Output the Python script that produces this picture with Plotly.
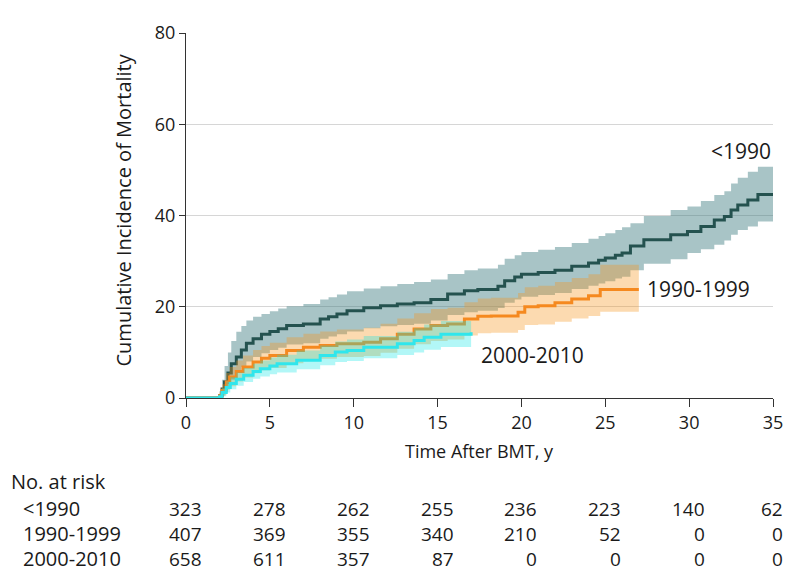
import plotly.graph_objects as go

# ---------------- data ----------------
# <1990 cohort: step times (years), cumulative incidence, lower / upper CI
t_pre90 = [0, 2.0, 2.15, 2.3, 2.5, 2.7, 3.0, 3.3, 3.6, 4.0, 4.5, 5.0, 5.5, 6.0, 7.0, 8.0, 8.5, 9.0,
           9.6, 10.6, 11.6, 12.6, 13.6, 14.6, 15.6, 16.6, 17.4, 18.6, 19.0, 19.6, 20.0, 21.0, 22.0,
           23.0, 24.0, 24.6, 25.0, 25.6, 26.0, 26.5, 27.3, 28.9, 29.9, 30.7, 31.5, 32.1, 32.5, 32.9,
           33.5, 34.1, 35.0]
v_pre90 = [0, 0.5, 2.0, 3.5, 5.5, 7.5, 9.0, 10.5, 12.0, 13.0, 14.0, 14.6, 15.2, 15.9, 16.2, 17.3, 17.8,
           18.4, 19.1, 19.8, 20.2, 20.6, 20.9, 21.6, 22.8, 23.5, 23.8, 24.5, 25.7, 26.5, 27.1, 27.5,
           28.0, 28.9, 29.6, 30.2, 30.7, 31.3, 31.8, 33.3, 34.7, 35.8, 36.5, 37.6, 39.0, 39.8, 41.2,
           42.3, 43.4, 44.6, 44.6]
lo_pre90 = [0, 0, 0.5, 1.2, 2.5, 4.0, 5.5, 6.8, 8.0, 9.0, 9.8, 10.5, 11.0, 11.7, 12.0, 13.0, 13.5,
            14.0, 14.6, 15.3, 15.7, 16.0, 16.3, 17.0, 18.2, 18.8, 19.1, 19.7, 20.9, 21.6, 22.2, 22.6,
            23.0, 23.9, 24.6, 25.1, 25.6, 26.2, 26.6, 28.0, 29.4, 30.4, 31.8, 32.6, 33.6, 34.5, 35.8,
            36.8, 37.6, 38.7, 38.7]
hi_pre90 = [0, 1.5, 4.0, 7.0, 10.0, 12.5, 14.5, 15.8, 17.0, 17.8, 18.4, 19.0, 19.6, 20.1, 20.6, 21.6,
            22.1, 22.7, 23.4, 24.0, 24.5, 25.0, 25.4, 26.0, 27.2, 28.0, 28.4, 29.2, 30.5, 31.3, 32.0,
            32.5, 33.1, 34.0, 34.9, 35.5, 36.1, 36.8, 37.4, 38.3, 39.9, 41.2, 42.0, 43.2, 44.5, 45.3,
            47.0, 48.3, 49.6, 50.7, 50.7]

# 1990-1999 cohort
t_90s = [0, 2.0, 2.15, 2.4, 2.6, 3.0, 3.4, 4.0, 4.5, 5.0, 6.0, 7.0, 8.0, 9.0, 10.6, 11.6, 12.6, 13.6,
         14.6, 15.6, 16.6, 17.4, 18.2, 19.8, 20.2, 21.0, 22.0, 23.0, 24.0, 24.7, 27.0]
v_90s = [0, 0.5, 1.7, 3.5, 4.6, 5.8, 6.8, 7.9, 8.7, 9.3, 10.4, 11.1, 11.5, 11.9, 12.2, 13.0, 14.0, 15.1,
         15.9, 16.2, 17.3, 17.9, 18.0, 18.8, 20.0, 20.2, 20.9, 21.7, 22.4, 23.8, 23.8]
lo_90s = [0, 0, 0.6, 1.8, 2.6, 3.6, 4.5, 5.4, 6.1, 6.6, 7.6, 8.2, 8.6, 9.0, 9.2, 9.9, 10.8, 11.8, 12.5,
          12.8, 13.7, 14.2, 14.3, 14.9, 16.0, 16.1, 16.7, 17.4, 18.0, 18.9, 18.9]
hi_90s = [0, 1.2, 3.0, 5.5, 6.8, 8.2, 9.3, 10.5, 11.4, 12.1, 13.3, 14.1, 14.6, 15.0, 15.4, 16.3, 17.4,
          18.6, 19.5, 19.8, 21.0, 21.8, 22.0, 23.0, 24.3, 24.6, 25.4, 26.3, 27.1, 29.2, 29.2]

# 2000-2010 cohort
t_00s = [0, 2.0, 2.15, 2.4, 2.64, 3.0, 3.44, 4.0, 4.43, 5.0, 5.43, 6.6, 8.0, 8.9, 9.6, 10.6, 12.6, 13.6,
         14.2, 15.2, 17.0]
v_00s = [0, 0.3, 1.2, 2.3, 3.2, 4.1, 5.0, 5.8, 6.4, 7.0, 7.5, 8.3, 9.3, 10.1, 10.4, 11.1, 11.9, 12.6,
         13.3, 14.0, 14.4]
lo_00s = [0, 0, 0.4, 1.2, 1.9, 2.7, 3.5, 4.2, 4.7, 5.2, 5.6, 6.3, 7.2, 7.9, 8.1, 8.7, 9.4, 10.0, 10.6,
          11.2, 11.4]
hi_00s = [0, 0.8, 2.2, 3.6, 4.6, 5.6, 6.6, 7.5, 8.2, 8.9, 9.5, 10.4, 11.5, 12.4, 12.8, 13.6, 14.5, 15.3,
          16.1, 16.9, 17.6]

# number at risk table
risk_times = [0, 5, 10, 15, 20, 25, 30, 35]
risk_pre90 = [323, 278, 262, 255, 236, 223, 140, 62]
risk_90s = [407, 369, 355, 340, 210, 52, 0, 0]
risk_00s = [658, 611, 357, 87, 0, 0, 0, 0]
group_labels = ["<1990", "1990-1999", "2000-2010"]

x_ticks = [0, 5, 10, 15, 20, 25, 30, 35]
y_ticks = [0, 20, 40, 60, 80]

# ---------------- styling ----------------
FONT = "Open Sans"
TXT = "#1a1a1a"
F_TICK = dict(family=FONT, size=18, color=TXT)
F_TITLE = dict(family=FONT, size=20, color=TXT)
F_XTITLE = dict(family=FONT, size=18, color=TXT)
F_TABLE = dict(family=FONT, size=19, color=TXT)
F_GROUP = dict(family=FONT, size=21, color=TXT)
F_GROUP_TAB = dict(family=FONT, size=20, color=TXT)
ROW_H = 21  # annotation box height for the table rows

series = [
    (t_pre90, v_pre90, lo_pre90, hi_pre90, "#24524f", "rgba(62,124,128,0.45)"),
    (t_90s, v_90s, lo_90s, hi_90s, "#f5891f", "rgba(247,148,29,0.35)"),
    (t_00s, v_00s, lo_00s, hi_00s, "#30e6ec", "rgba(0,230,230,0.30)"),
]

fig = go.Figure()
for t, v, lo, hi, lc, fc in series:
    fig.add_trace(go.Scatter(x=t, y=lo, mode="lines", line=dict(width=0, shape="hv", color=fc),
                             showlegend=False, hoverinfo="skip"))
    fig.add_trace(go.Scatter(x=t, y=hi, mode="lines", line=dict(width=0, shape="hv", color=fc),
                             fill="tonexty", fillcolor=fc, showlegend=False, hoverinfo="skip"))
    fig.add_trace(go.Scatter(x=t, y=v, mode="lines", line=dict(width=3, shape="hv", color=lc),
                             showlegend=False, cliponaxis=False))

# curve labels
fig.add_annotation(x=35, y=54.2, xref="x", yref="y", text="<1990", showarrow=False,
                   xanchor="right", yanchor="middle", font=F_GROUP)
fig.add_annotation(x=27, y=23.8, xref="x", yref="y", text="1990-1999", showarrow=False,
                   xanchor="left", yanchor="middle", xshift=6, font=F_GROUP)
fig.add_annotation(x=17, y=9.5, xref="x", yref="y", text="2000-2010", showarrow=False,
                   xanchor="left", yanchor="middle", xshift=8, font=F_GROUP)

# axis titles
fig.add_annotation(x=0.5, y=0, xref="paper", yref="paper", text="Time After BMT, y", showarrow=False,
                   xanchor="center", yanchor="middle", yshift=-53, font=F_XTITLE)
fig.add_annotation(x=0, y=0.5, xref="paper", yref="paper", text="Cumulative Incidence of Mortality",
                   showarrow=False, textangle=-90, xanchor="center", yanchor="middle", xshift=-63, yshift=5,
                   font=F_TITLE)

# number at risk table
fig.add_annotation(x=0, y=0, xref="paper", yref="paper", text="No. at risk", showarrow=False,
                   xanchor="left", yanchor="middle", xshift=-176, yshift=-83, font=F_TITLE,
                   height=ROW_H, borderpad=0)
row_shifts = [-110, -135, -160]
for lab, counts, ys in zip(group_labels, [risk_pre90, risk_90s, risk_00s], row_shifts):
    fig.add_annotation(x=0, y=0, xref="paper", yref="paper", text=lab, showarrow=False,
                       xanchor="left", yanchor="middle", xshift=-164, yshift=ys, font=F_GROUP_TAB,
                       height=ROW_H, borderpad=0)
    for i, (tt, n) in enumerate(zip(risk_times, counts)):
        fig.add_annotation(x=tt, y=0, xref="x", yref="paper", text=str(n), showarrow=False,
                           xanchor="right", yanchor="middle", xshift=17 if i < len(risk_times) - 1 else 11,
                           yshift=ys, font=F_TABLE, height=ROW_H, borderpad=0)

# the page body keeps its default 8px margin, so the figure is sized to fit the window
fig.update_layout(
    width=790, height=580,
    margin=dict(l=178, r=25, t=21, b=190),
    paper_bgcolor="white", plot_bgcolor="white",
    font=dict(family=FONT, size=18, color=TXT),
    showlegend=False,
    xaxis=dict(range=[0, 35], tickvals=x_ticks, ticks="outside", ticklen=8, tickcolor="#333",
               showline=True, linecolor="#333", linewidth=1, showgrid=False, zeroline=False,
               layer="below traces", tickfont=F_TICK),
    yaxis=dict(range=[0, 80], tickvals=y_ticks, ticks="outside", ticklen=6, tickcolor="#333",
               showline=True, linecolor="#333", linewidth=1, showgrid=True, gridcolor="#d6d6d6",
               gridwidth=1, zeroline=False, layer="below traces", tickfont=F_TICK),
)

fig.write_html("out.html")
